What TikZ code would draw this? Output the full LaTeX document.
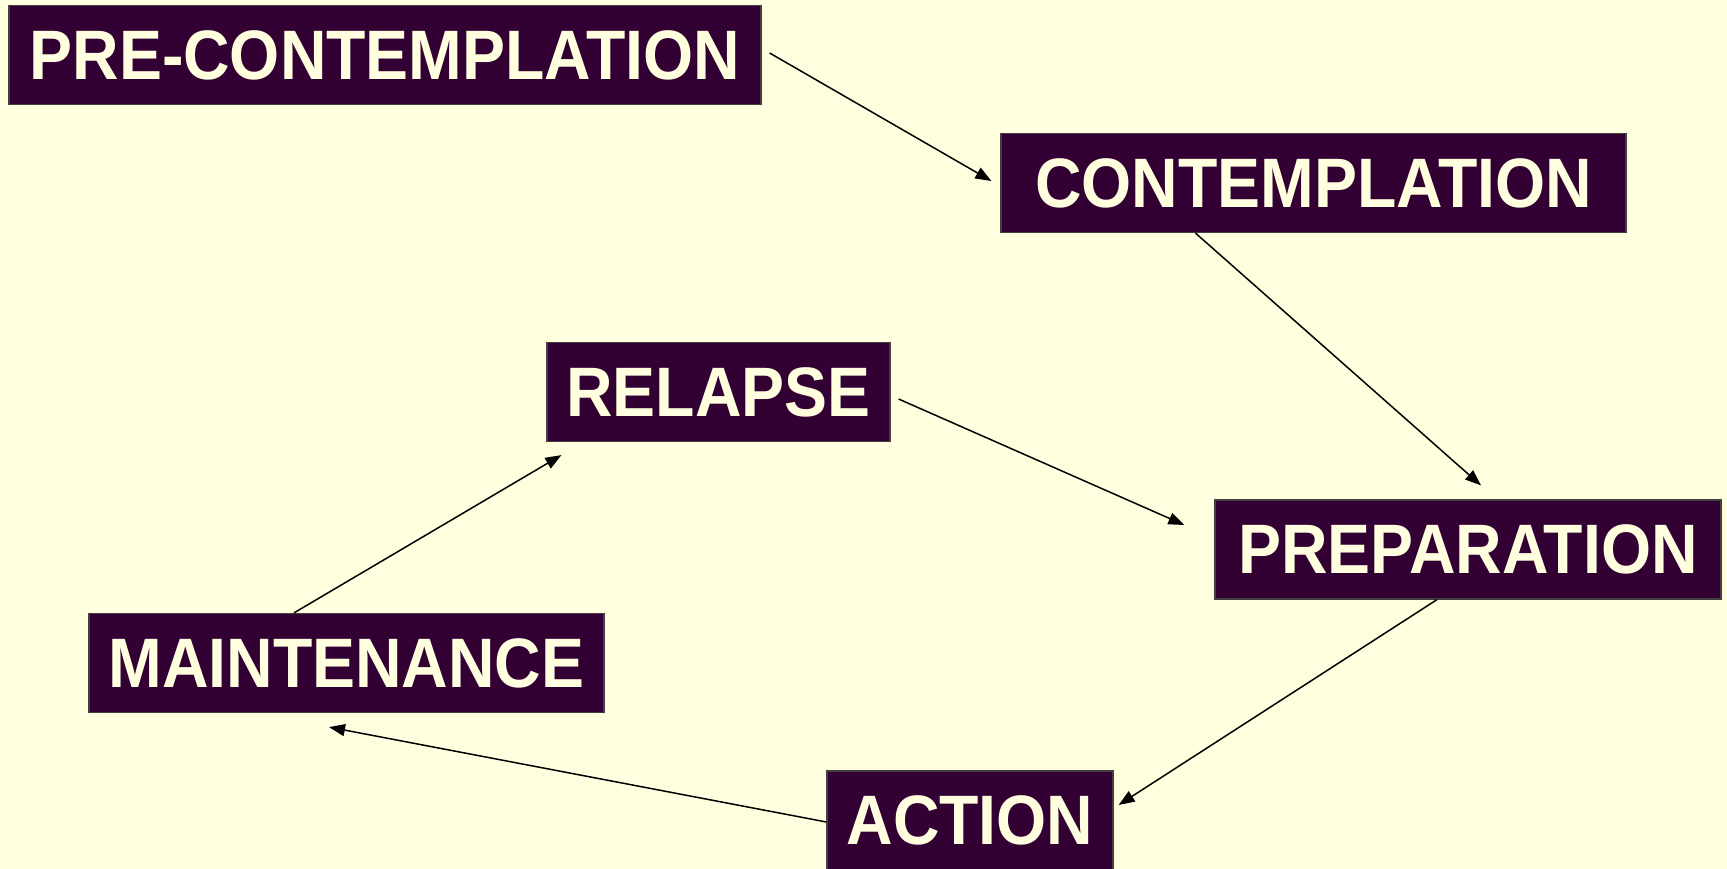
\documentclass[tikz,border=0pt]{standalone}
\usepackage{fontspec}
\usepackage{xcolor}
\usepackage{tikz}
\usetikzlibrary{arrows.meta,positioning,calc}
\newfontfamily\stagefont[FakeStretch=0.92]{Liberation Sans}
\definecolor{paper}{HTML}{FFFFE0}
\definecolor{plum}{HTML}{330033}
\definecolor{cream}{HTML}{FFFFE0}
\tikzset{
  stagebox/.style={draw=black!75,line width=1.2pt,fill=plum,text=cream,
    minimum height=99pt,inner sep=0pt,
    font=\stagefont\bfseries\fontsize{70}{72}\selectfont},
  flow/.style={draw=black,line width=1.5pt,-{Triangle[length=16pt,width=12pt]}}
}

\begin{document}
\begin{tikzpicture}[x=1pt,y=-1pt]
  % fond jaune pâle, au format de l'image
  \fill[paper] (0,0) rectangle (1727,869);
  \useasboundingbox (0,0) rectangle (1727,869);

  \node[stagebox,minimum width=752pt] (pre)     at (385,55)    {PRE-CONTEMPLATION};
  \node[stagebox,minimum width=625pt] (contemp) at (1313.5,183) {CONTEMPLATION};
  \node[stagebox,minimum width=343pt] (relapse) at (718.5,392)  {RELAPSE};
  \node[stagebox,minimum width=506pt] (prep)    at (1468,549.5) {PREPARATION};
  \node[stagebox,minimum width=515pt] (maint)   at (346.5,663)  {MAINTENANCE};
  \node[stagebox,minimum width=286pt] (action)  at (970,820.5)  {ACTION};

  % le cycle des étapes
  \draw[flow] ([xshift=8pt,yshift=2pt]pre.east) -- ([xshift=-9pt,yshift=2pt]contemp.west);
  \draw[flow] ([xshift=-118pt]contemp.south) -- ([xshift=13pt,yshift=14pt]prep.north);
  \draw[flow] ([xshift=8pt,yshift=-7pt]relapse.east) -- ([xshift=-30pt,yshift=24.5pt]prep.west);
  \draw[flow] ([xshift=-31pt]prep.south) -- ([xshift=5pt,yshift=15.5pt]action.east);
  \draw[flow] ([yshift=-1.5pt]action.west) -- ([xshift=-17.5pt,yshift=-14pt]maint.south);
  \draw[flow] ([xshift=-52.5pt]maint.north) -- ([xshift=15pt,yshift=-13pt]relapse.south west);
\end{tikzpicture}
\end{document}
